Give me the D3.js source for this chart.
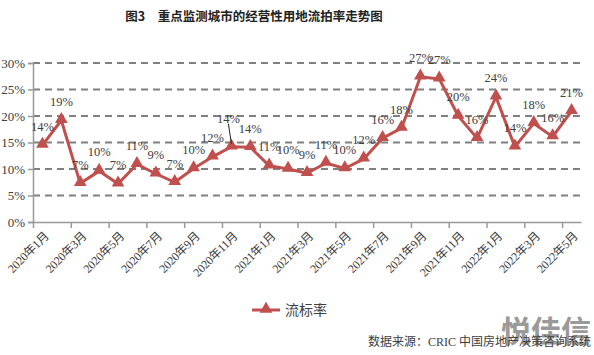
<!DOCTYPE html>
<html><head><meta charset="utf-8">
<script src="https://cdn.jsdelivr.net/npm/d3@7"></script>
<style>
body{margin:0;background:#fff;}
svg{display:block;}
text{font-family:"Liberation Serif","Noto Sans CJK SC",serif;}
</style></head><body>
<svg id="c" width="594" height="355"></svg>
<script>
const title = "图3　重点监测城市的经营性用地流拍率走势图";
const months = ["2020年1月","2020年2月","2020年3月","2020年4月","2020年5月","2020年6月","2020年7月","2020年8月","2020年9月","2020年10月","2020年11月","2020年12月",
"2021年1月","2021年2月","2021年3月","2021年4月","2021年5月","2021年6月","2021年7月","2021年8月","2021年9月","2021年10月","2021年11月","2021年12月",
"2022年1月","2022年2月","2022年3月","2022年4月","2022年5月"];
const rates = [14.5,19.2,7.3,9.6,7.2,10.9,9.1,7.5,10.1,12.3,14.2,14.1,10.6,10.0,9.2,11.1,10.1,11.9,15.8,17.7,27.4,27.0,20.0,15.8,23.6,14.2,18.6,16.1,20.9];
const rateLabels = ["14%","19%","7%","10%","7%","11%","9%","7%","10%","12%","14%","14%","11%","10%","9%","11%","10%","12%","16%","18%","27%","27%","20%","16%","24%","14%","18%","16%","21%"];
const yTicks = [0,5,10,15,20,25,30];
const seriesName = "流标率";
const sourceText = "数据来源：CRIC 中国房地产决策咨询系统";
const watermark = "悦佳信";

const svg = d3.select("#c");
const red = "#c0504d";
const L = 33, R = 581, T = 63, B = 222;

const x = d3.scaleBand().domain(d3.range(months.length)).range([L, R]).padding(0);
const xB = d3.scaleLinear().domain([0, months.length]).range([L, R]);
const y = d3.scaleLinear().domain([0, 30]).range([B, T]);

// title
svg.append("text").attr("x", 254).attr("y", 21).attr("text-anchor", "middle")
  .attr("font-size", 12.5).attr("font-weight", "bold").attr("fill", "#222")
  .style("font-family", '"Noto Sans CJK SC",sans-serif').text(title);

// grid
svg.append("g").selectAll("line").data(yTicks.filter(d => d > 0)).join("line")
  .attr("x1", L).attr("x2", 584).attr("y1", d => y(d)).attr("y2", d => y(d))
  .attr("stroke", "#808080").attr("stroke-width", 2).attr("stroke-dasharray", "7,5");

// y axis
const ya = svg.append("g").attr("transform", `translate(${L},0)`)
  .call(d3.axisLeft(y).tickValues(yTicks).tickFormat(d => d + "%").tickSize(5).tickPadding(3));
ya.select(".domain").attr("stroke", "#999").attr("stroke-width", 1.5);
ya.selectAll(".tick line").attr("stroke", "#999").attr("stroke-width", 1.5);
ya.selectAll("text").attr("font-size", 13).attr("fill", "#404040")
  .style("font-family", '"Liberation Serif",serif');

// x axis
const xa = svg.append("g").attr("transform", `translate(0,${B})`)
  .call(d3.axisBottom(xB).tickValues(d3.range(0, months.length, 2)).tickFormat("").tickSize(6).tickSizeOuter(0));
xa.select(".domain").attr("stroke", "#999").attr("stroke-width", 1.5);
xa.selectAll(".tick line").attr("stroke", "#999").attr("stroke-width", 1.5);

svg.append("g").selectAll("text").data(d3.range(0, months.length, 2)).join("text")
  .attr("transform", i => `translate(${x(i) + x.bandwidth() / 2 + 4},${B + 12}) rotate(-45)`)
  .attr("text-anchor", "end").attr("dy", "0.35em")
  .attr("font-size", 12).attr("fill", "#404040").attr("letter-spacing", -0.3)
  .text(i => months[i]);

// line
const cx = i => x(i) + x.bandwidth() / 2;
svg.append("path").datum(rates)
  .attr("d", d3.line().x((d, i) => cx(i)).y(d => y(d)))
  .attr("fill", "none").attr("stroke", red).attr("stroke-width", 3).attr("stroke-linejoin", "miter");

const tri = d3.symbol().type(d3.symbolTriangle).size(70);
svg.append("g").selectAll("path").data(rates).join("path")
  .attr("d", tri).attr("transform", (d, i) => `translate(${cx(i)},${y(d) - 1})`).attr("fill", red);

// data labels
const lbl = svg.append("g");
rates.forEach((d, i) => {
  const off = i === 10 ? 28 : 19;
  if (i === 10) {
    lbl.append("line").attr("x1", cx(i) - 3).attr("y1", y(d) - off + 5)
      .attr("x2", cx(i)).attr("y2", y(d) - 3).attr("stroke", "#222").attr("stroke-width", 1);
  }
  lbl.append("text").attr("x", cx(i) - (i === 10 ? 3 : 0)).attr("y", y(d) - off)
    .attr("dy", "0.35em").attr("text-anchor", "middle")
    .attr("font-size", 12.5).attr("fill", "#404040").text(rateLabels[i]);
});

// legend
svg.append("line").attr("x1", 252).attr("x2", 280).attr("y1", 310).attr("y2", 310)
  .attr("stroke", red).attr("stroke-width", 3);
svg.append("path").attr("d", tri).attr("transform", "translate(266,309)").attr("fill", red);
svg.append("text").attr("x", 285).attr("y", 310).attr("dy", "0.35em")
  .attr("font-size", 14).attr("fill", "#404040").text(seriesName);

// watermark
svg.append("text").attr("x", 546).attr("y", 342).attr("text-anchor", "middle")
  .attr("font-size", 30).attr("font-weight", "bold").attr("fill", "#9a9a9a")
  .style("font-family", '"Noto Sans CJK SC",sans-serif').text(watermark);

// source
svg.append("text").attr("x", 591).attr("y", 346).attr("text-anchor", "end")
  .attr("font-size", 12).attr("fill", "#404040").text(sourceText);
</script>
</body></html>
